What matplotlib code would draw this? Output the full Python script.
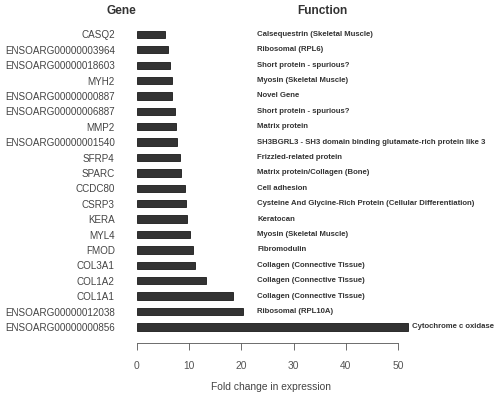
import matplotlib.pyplot as plt
import matplotlib.transforms as mtransforms

# === DATA (top to bottom as shown) ===
genes = ["CASQ2", "ENSOARG00000003964", "ENSOARG00000018603", "MYH2",
         "ENSOARG00000000887", "ENSOARG00000006887", "MMP2",
         "ENSOARG00000001540", "SFRP4", "SPARC", "CCDC80", "CSRP3", "KERA",
         "MYL4", "FMOD", "COL3A1", "COL1A2", "COL1A1",
         "ENSOARG00000012038", "ENSOARG00000000856"]
fold_change = [5.4, 5.9, 6.3, 6.8, 6.8, 7.3, 7.5, 7.7, 8.2, 8.4, 9.1,
               9.4, 9.6, 10.2, 10.7, 11.2, 13.2, 18.3, 20.4, 51.9]
functions = ["Calsequestrin (Skeletal Muscle)", "Ribosomal (RPL6)",
             "Short protein - spurious?", "Myosin (Skeletal Muscle)",
             "Novel Gene", "Short protein - spurious?", "Matrix protein",
             "SH3BGRL3 - SH3 domain binding glutamate-rich protein like 3",
             "Frizzled-related protein", "Matrix protein/Collagen (Bone)",
             "Cell adhesion",
             "Cysteine And Glycine-Rich Protein (Cellular Differentiation)",
             "Keratocan", "Myosin (Skeletal Muscle)", "Fibromodulin",
             "Collagen (Connective Tissue)", "Collagen (Connective Tissue)",
             "Collagen (Connective Tissue)", "Ribosomal (RPL10A)",
             "Cytochrome c oxidase"]
xticks = [0, 10, 20, 30, 40, 50]

plt.rcParams['font.family'] = ['Liberation Sans', 'DejaVu Sans']

W, H = 498, 393
fig = plt.figure(figsize=(W / 100, H / 100), dpi=100)

# axes placement in pixels: x=0 at 137px, 5.22 px per unit
x0_px, px_per_unit, xmax = 137, 5.22, 65
ax = fig.add_axes([x0_px / W, (H - 343) / H, xmax * px_per_unit / W, 316.3 / H])

n = len(genes)
ypos = list(range(n - 1, -1, -1))
ax.barh(ypos, fold_change, height=0.48, color="#333333",
        edgecolor="#1a1a1a", linewidth=0.6)

ax.set_xlim(0, xmax)
ax.set_ylim(-1.04, 19.5)
ax.set_yticks(ypos)
ax.set_yticklabels(genes, fontsize=7.1, color="#444444")
ax.tick_params(axis='y', length=0, pad=16)

ax.set_xticks(xticks)
ax.set_xticklabels([str(t) for t in xticks], fontsize=7.4, color="#555555")
ax.tick_params(axis='x', length=5, width=0.6, color="#555555", pad=8)
for s in ["left", "right", "top"]:
    ax.spines[s].set_visible(False)
ax.spines["bottom"].set_bounds(0, 50)
ax.spines["bottom"].set_linewidth(0.6)
ax.spines["bottom"].set_color("#555555")

# function column (figure x, data y)
trans = mtransforms.blended_transform_factory(fig.transFigure, ax.transData)
for y, val, f in zip(ypos, fold_change, functions):
    if val > 22:
        ax.text(val + 0.8, y, f, fontsize=5.55, fontweight='bold',
                color="#333333", va='center', ha='left')
    else:
        ax.text(257 / W, y, f, transform=trans, fontsize=5.55,
                fontweight='bold', color="#333333", va='center', ha='left')

fig.text(121 / W, 1 - 11 / H, "Gene", fontsize=8.6, fontweight='bold',
         color="#333333", ha='center', va='center')
fig.text(322 / W, 1 - 11 / H, "Function", fontsize=8.6, fontweight='bold',
         color="#333333", ha='center', va='center')
fig.text(271 / W, 1 - 387 / H, "Fold change in expression", fontsize=7.4,
         color="#444444", ha='center', va='center')

fig.savefig("out.png", dpi=100)
